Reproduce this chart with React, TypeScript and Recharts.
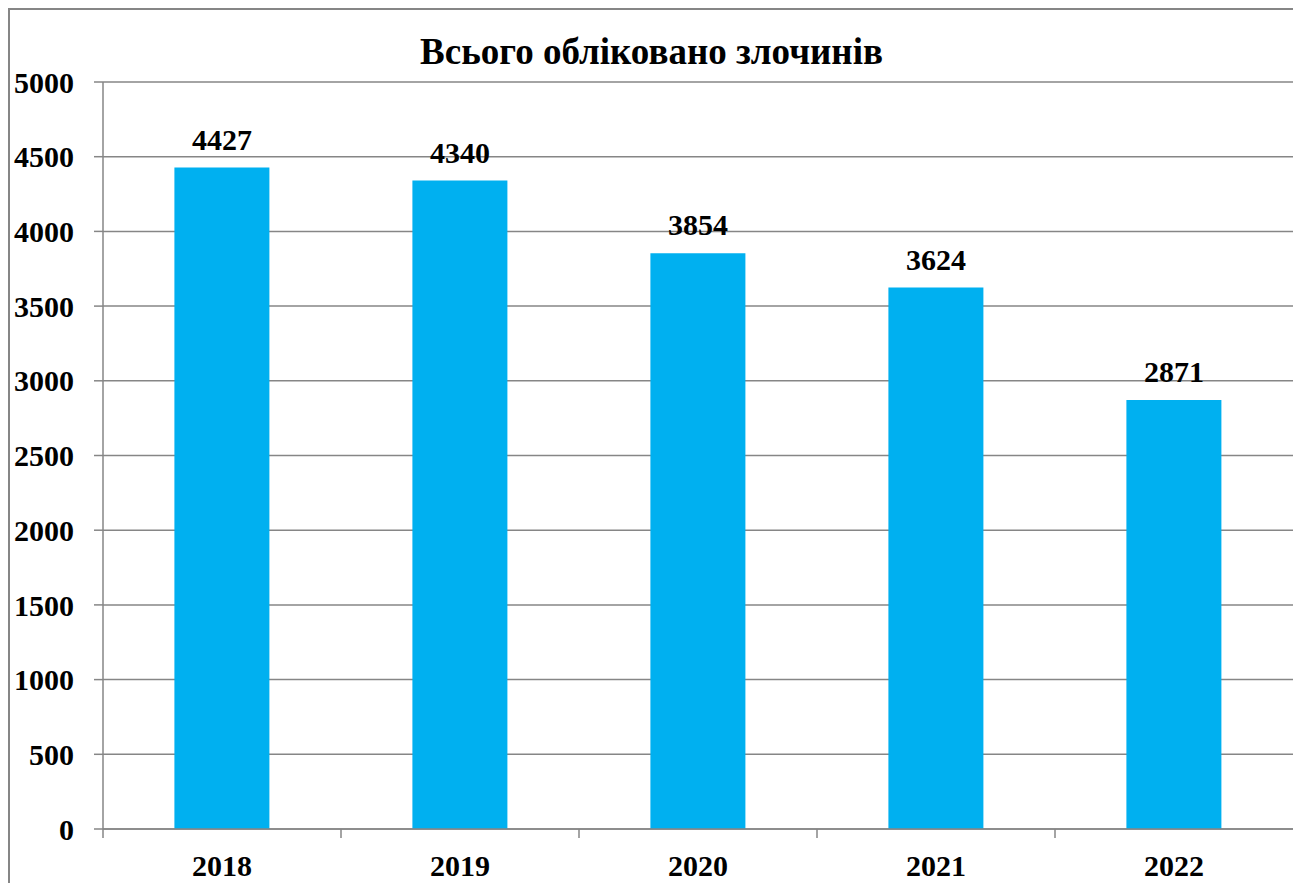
import React from 'react';
import { BarChart, Bar, CartesianGrid, XAxis, YAxis, LabelList } from 'recharts';

const years = ['2018', '2019', '2020', '2021', '2022'];
const crimes = [4427, 4340, 3854, 3624, 2871];
const yTicks = [0, 500, 1000, 1500, 2000, 2500, 3000, 3500, 4000, 4500, 5000];

const title = 'Всього обліковано злочинів';

const data = years.map((year, i) => ({ year, value: crimes[i] }));

const FONT = 'Liberation Serif, Times New Roman, serif';
const GRAY = '#868686';
const X_TICK_MARGIN = 26;
const X_TICK_LEN = 9;

// category label plus a tick mark on the left edge of each band
const YearTick = (props: any) => {
  const { x, y, payload, width, visibleTicksCount } = props;
  const half =
    payload && typeof payload.offset === 'number' && payload.offset > 0
      ? payload.offset
      : width / (2 * visibleTicksCount);
  const axisY = y - X_TICK_MARGIN;
  return (
    <g>
      <line
        x1={x - half}
        x2={x - half}
        y1={axisY}
        y2={axisY + X_TICK_LEN}
        stroke={GRAY}
        strokeWidth={1.5}
      />
      <text
        x={x}
        y={y}
        dy="0.71em"
        textAnchor="middle"
        fill="#000"
        fontSize={30}
        fontWeight="bold"
        fontFamily={FONT}
      >
        {payload.value}
      </text>
    </g>
  );
};

const App: React.FC = () => (
  <div
    style={{
      position: 'relative',
      width: 1283,
      height: 873,
      borderTop: `2px solid ${GRAY}`,
      borderLeft: `2px solid ${GRAY}`,
      borderRight: `2px solid ${GRAY}`,
      fontFamily: FONT,
    }}
  >
    <div
      style={{
        position: 'absolute',
        top: 23,
        left: 0,
        width: '100%',
        textAlign: 'center',
        fontSize: 37,
        lineHeight: '37px',
        fontWeight: 'bold',
        color: '#000',
      }}
    >
      {title}
    </div>
    <BarChart
      width={1283}
      height={873}
      data={data}
      margin={{ top: 72, right: 0, bottom: 0, left: 0 }}
      barCategoryGap="30%"
      style={{ fontFamily: FONT }}
    >
      <CartesianGrid vertical={false} stroke={GRAY} strokeWidth={1.5} />
      <XAxis
        dataKey="year"
        height={54}
        interval={0}
        axisLine={{ stroke: GRAY, strokeWidth: 1.5 }}
        tickLine={false}
        tickSize={0}
        tickMargin={X_TICK_MARGIN}
        tick={(p: any) => <YearTick {...p} />}
      />
      <YAxis
        width={93}
        domain={[0, 5000]}
        ticks={yTicks}
        interval={0}
        tickSize={9}
        tickMargin={20}
        axisLine={{ stroke: GRAY, strokeWidth: 1.5 }}
        tickLine={{ stroke: GRAY, strokeWidth: 1.5 }}
        tick={{ fill: '#000', fontSize: 30, fontWeight: 'bold', fontFamily: FONT }}
      />
      <Bar dataKey="value" fill="#00B0F0" isAnimationActive={false}>
        <LabelList
          dataKey="value"
          position="top"
          offset={18}
          fill="#000"
          fontSize={30}
          fontWeight="bold"
          fontFamily={FONT}
        />
      </Bar>
    </BarChart>
  </div>
);

export default App;
